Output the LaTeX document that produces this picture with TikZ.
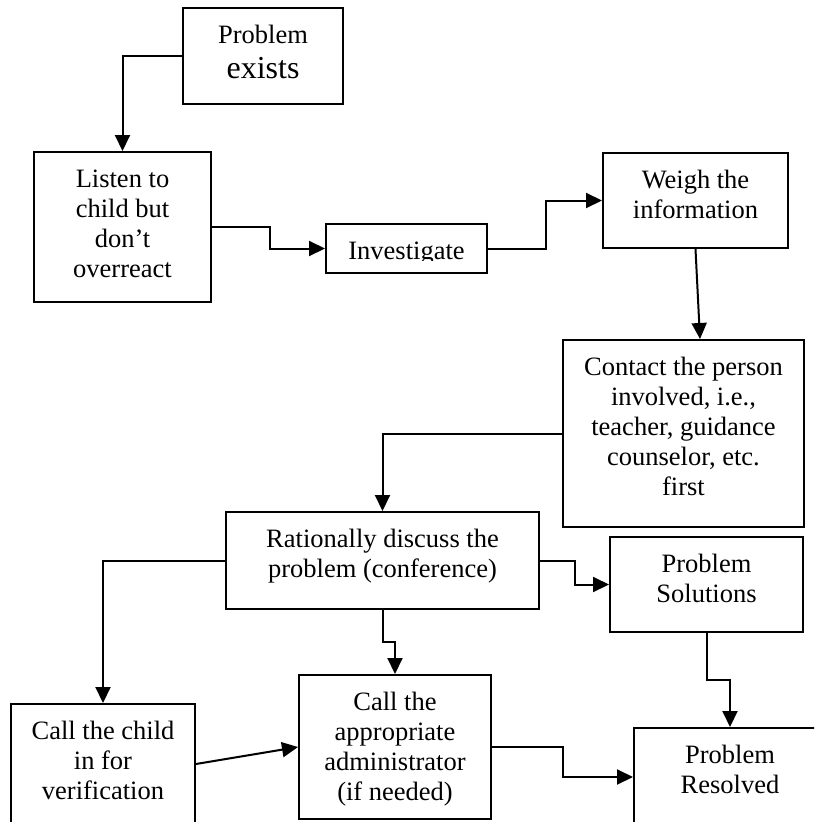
\documentclass[tikz,border=0pt]{standalone}
\usepackage{fontspec}
\setmainfont{Liberation Serif}
\usetikzlibrary{calc,arrows.meta}
\tikzset{stepbox/.style={draw, rectangle, line width=2pt, inner sep=0pt},
  boxtext/.style={anchor=north, inner sep=0pt, align=center,
    font=\fontsize{26.5}{30}\selectfont},
  flow/.style={line width=2pt, -{Triangle[length=16pt,width=15pt]}}}

\begin{document}
\begin{tikzpicture}[x=1pt, y=-1pt]
  \useasboundingbox (0, 0) rectangle (814, 822);
  \clip (0, 0) rectangle (814, 822);

  \node at (263, 56) [stepbox, minimum width=160, minimum height=96] (exists) {};
  \node at (122.5, 227) [stepbox, minimum width=177, minimum height=150] (listen) {};
  \node at (406.5, 248.5) [stepbox, minimum width=161, minimum height=49] (investigate) {};
  \node at (695.5, 200.5) [stepbox, minimum width=185, minimum height=95] (weigh) {};
  \node at (683.5, 433.5) [stepbox, minimum width=241, minimum height=187] (contact) {};
  \node at (382.5, 560.5) [stepbox, minimum width=313, minimum height=97] (discuss) {};
  \node at (706.5, 584.5) [stepbox, minimum width=193, minimum height=95] (solutions) {};
  \node at (395, 747) [stepbox, minimum width=192, minimum height=144] (admin) {};
  \node at (103, 764) [stepbox, minimum width=184, minimum height=120] (child) {};
  \node at (730, 777) [stepbox, minimum width=192, minimum height=98] (resolved) {};

  \node at ($ (exists.north) + (0, 15) $) [boxtext] (exists-t)
    {\strut Problem\\{\fontsize{32}{36}\selectfont\strut exists}};
  \foreach \b / \txt in {listen/{Listen to\\child but\\don’t\\overreact},
      weigh/{Weigh the\\information},
      contact/{Contact the person\\involved, i.e.,\\teacher, guidance\\counselor, etc.\\first},
      discuss/{Rationally discuss the\\problem (conference)},
      solutions/{Problem\\Solutions},
      admin/{Call the\\appropriate\\administrator\\(if needed)},
      child/{Call the child\\in for\\verification},
      resolved/{Problem\\Resolved}} {
    \node at ($ (\b.north) + (0, 15) $) [boxtext] (\b-t) {\strut\txt};
  }
  \begin{scope}
    \clip ($ (investigate.north west) + (1, 1) $) rectangle ($ (investigate.east) + (0, 12) $);
    \node at ($ (investigate.north) + (0, 15) $) [boxtext] (investigate-t) {\strut Investigate};
  \end{scope}

  \draw[flow] (exists.west) -| (listen.north);
  \draw[flow] (listen.east) -- ++(58, 0) |- (investigate.west);
  \draw[flow] (investigate.east) -- ++(58, 0) |- (weigh.west);
  \draw[flow] (weigh.south) -- ($ (contact.north) + (16.5, 0) $);
  \draw[flow] (contact.west) -| (discuss.north);
  \draw[flow] (discuss.west) -| (child.north);
  \draw[flow] (discuss.south) -- ++(0, 32) -| (admin.north);
  \draw[flow] (discuss.east) -- ++(35, 0) |- (solutions.west);
  \draw[flow] (solutions.south) -- ++(0, 47) -| (resolved.north);
  \draw[flow] (child.east) -- (admin.west);
  \draw[flow] (admin.east) -- ++(71, 0) |- (resolved.west);
\end{tikzpicture}
\end{document}
